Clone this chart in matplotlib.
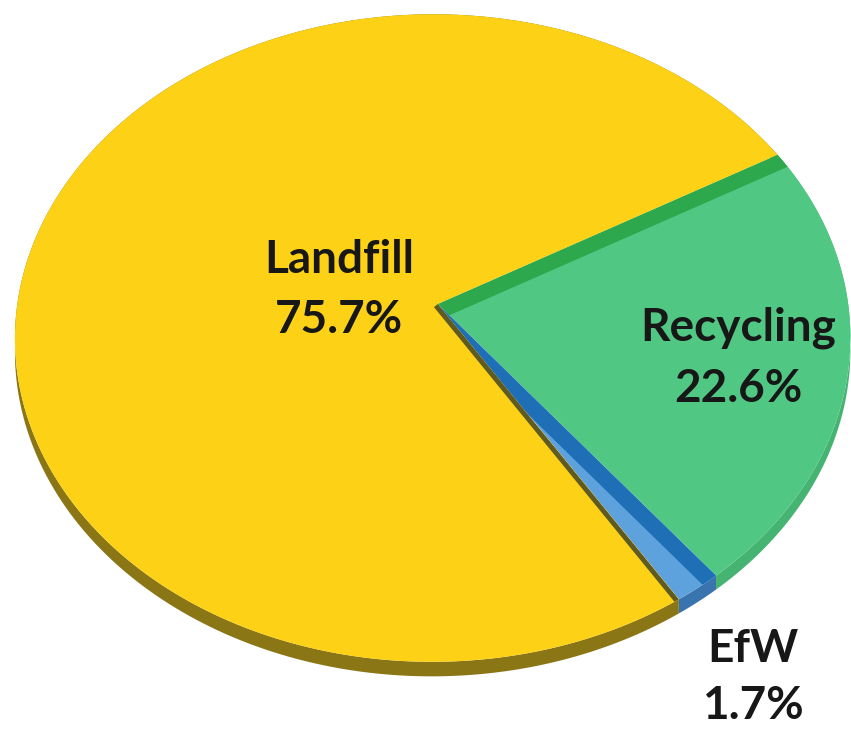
import numpy as np
import matplotlib.pyplot as plt
from matplotlib.patches import Polygon

# waste routes and their shares (%)
labels = ['Recycling', 'EfW', 'Landfill']
shares = [22.6, 1.7, 75.7]
top_colors = ['#50c883', '#5ea2dd', '#fcd116']
side_colors = ['#45b473', '#3a74ae', '#8a7615']
bevel_colors = ['#2ea84c', '#1f6fb6', '#5e5a22']
bevel_width = [15, 16, 5]
# label anchor (x, baseline of first line, baseline of second line)
label_pos = [(738, 340, 402), (753, 662, 719), (339, 273, 333)]
start_deg = 26.9

# perspective view of the disc (homography on the unit circle)
view = np.array([[426.677, 25.6184, 437.851],
                 [-10.4935, -292.907, 303.984],
                 [0.0173811, 0.104462, 1.0]])
squash = (0.99, 0.985)
thick = 13.0


def proj(theta, depth=0.0, r=1.0):
    theta = np.atleast_1d(theta)
    q = view @ np.vstack([r * np.cos(theta), r * np.sin(theta), np.ones_like(theta)])
    x, y = q[0] / q[2], q[1] / q[2]
    x = view[0, 2] + (x - view[0, 2]) * squash[0]
    y = view[1, 2] + (y - view[1, 2]) * squash[1] + depth * thick / q[2]
    return x, y


fig = plt.figure(figsize=(8.51, 7.29), dpi=100)
ax = fig.add_axes([0, 0, 1, 1])
ax.set_xlim(0, 851)
ax.set_ylim(729, 0)
ax.axis('off')

bounds = [np.deg2rad(start_deg)]
for s in shares:
    bounds.append(bounds[-1] - np.deg2rad(s * 3.6))

apex = np.array([view[0, 2], view[1, 2]])

# rim walls
for i in range(len(shares)):
    t = np.linspace(bounds[i], bounds[i + 1], 300)
    xt, yt = proj(t)
    xb, yb = proj(t[::-1], 1.0)
    pts = np.column_stack([np.r_[xt, xb], np.r_[yt, yb]])
    ax.add_patch(Polygon(pts, closed=True, fc=side_colors[i], ec='none'))

# top faces
tops = []
for i in range(len(shares)):
    t = np.linspace(bounds[i], bounds[i + 1], 300)
    xt, yt = proj(t)
    pts = np.vstack([apex, np.column_stack([xt, yt])])
    p = Polygon(pts, closed=True, fc=top_colors[i], ec='none')
    ax.add_patch(p)
    tops.append(p)

# bevel band along the leading cut of each wedge
for i in range(len(shares)):
    rim = np.array(proj(bounds[i])).ravel()
    d = (rim - apex) / np.hypot(*(rim - apex))
    n = np.array([-d[1], d[0]])
    mid = np.array(proj((bounds[i] + bounds[i + 1]) / 2, r=0.5)).ravel()
    if np.dot(mid - apex, n) < 0:
        n = -n
    w = bevel_width[i]
    strip = np.array([apex, rim + d * 20, rim + d * 20 + n * w, apex + n * w])
    sp = Polygon(strip, closed=True, fc=bevel_colors[i], ec='none')
    ax.add_patch(sp)
    sp.set_clip_path(tops[i])

for i, lab in enumerate(labels):
    x, y1, y2 = label_pos[i]
    for txt, y in [(lab, y1), (f'{shares[i]:.1f}%', y2)]:
        ax.text(x, y, txt, ha='center', va='baseline', fontsize=33,
                fontweight='bold', family='Lato', color='#171717')

fig.savefig('out.png', dpi=100)
